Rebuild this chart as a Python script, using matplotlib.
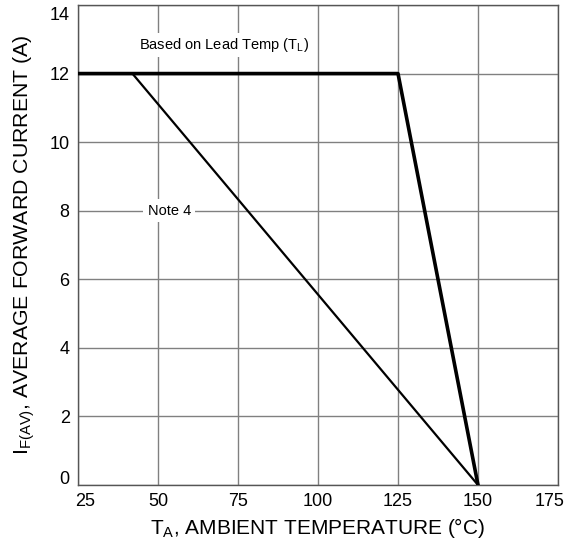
import matplotlib.pyplot as plt
import matplotlib.transforms as mtransforms

plt.rcParams['font.family'] = ['Liberation Sans', 'DejaVu Sans']

# lead temperature curve (thick)
lead_temp = [25, 125, 150]
lead_current = [12, 12, 0]

# Note 4 curve (thin)
note4_temp = [42, 150]
note4_current = [12, 0]

x_ticks = [25, 50, 75, 100, 125, 150, 175]
y_ticks = [0, 2, 4, 6, 8, 10, 12, 14]

fig = plt.figure(figsize=(5.71, 5.40), dpi=100)
ax = fig.add_axes([78 / 571, 55 / 540, 480 / 571, 480 / 540])

ax.plot(note4_temp, note4_current, color='black', lw=1.6, zorder=3)
ax.plot(lead_temp, lead_current, color='black', lw=2.6, zorder=4)

ax.set_xlim(25, 175)
ax.set_ylim(0, 14)
ax.set_xticks(x_ticks)
ax.set_yticks(y_ticks)
ax.tick_params(length=0, labelsize=13, pad=6)
ax.grid(True, color='#808080', lw=1.0)
for s in ax.spines.values():
    s.set_color('#555555')
    s.set_linewidth(1.0)

# edge tick labels sit inward a little, as in the original datasheet
def shift(lbl, dx, dy):
    lbl.set_transform(lbl.get_transform() +
                      mtransforms.ScaledTranslation(dx / 100, dy / 100, fig.dpi_scale_trans))

xl = ax.get_xticklabels()
shift(xl[0], 7, 0)
shift(xl[-1], -8, 0)
yl = ax.get_yticklabels()
shift(yl[0], 0, 7)
shift(yl[-1], 0, -8)

ax.text(70.5, 12.83, 'Based on Lead Temp (T$_\\mathregular{L}$)', fontsize=10.5,
        ha='center', va='center', zorder=5,
        bbox=dict(facecolor='white', edgecolor='none', pad=2))
ax.text(53.5, 8, 'Note 4', fontsize=10.5, ha='center', va='center', zorder=5,
        bbox=dict(facecolor='white', edgecolor='none', pad=3))

ax.set_xlabel('T$_\\mathregular{A}$, AMBIENT TEMPERATURE (°C)', fontsize=15, labelpad=4)
ax.set_ylabel('I$_\\mathregular{F(AV)}$, AVERAGE FORWARD CURRENT (A)', fontsize=15.3, labelpad=9)

fig.savefig('out.png', dpi=100)
